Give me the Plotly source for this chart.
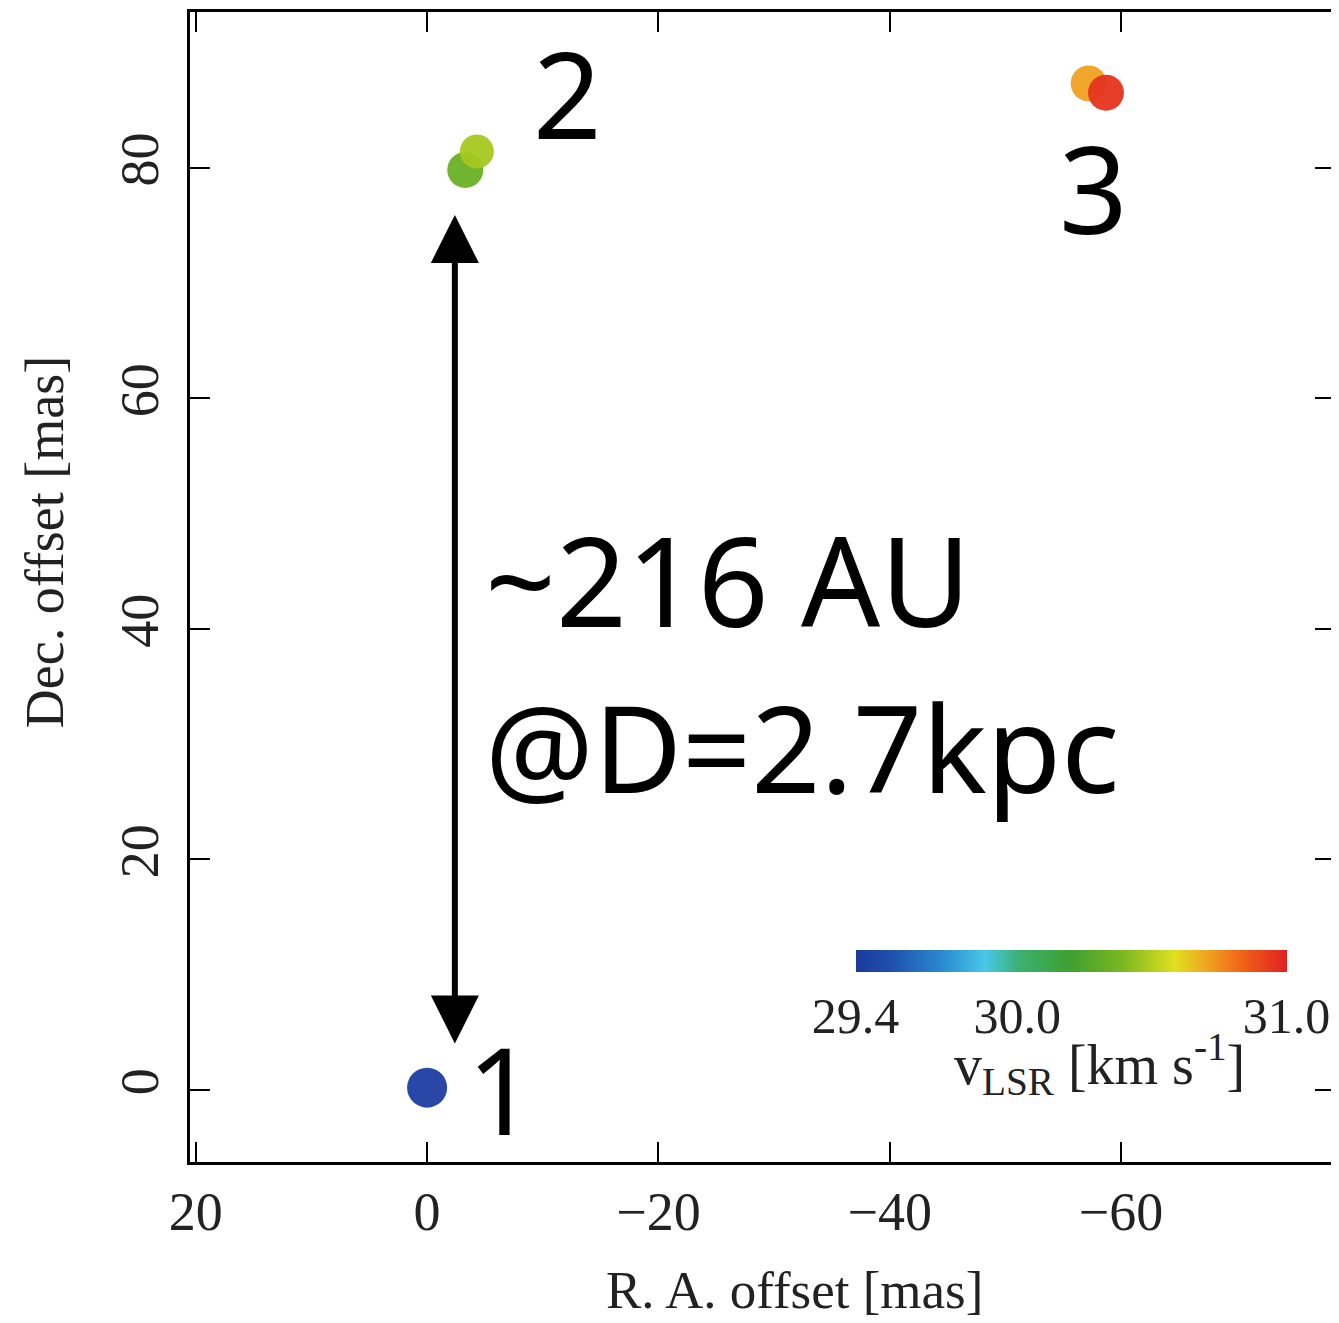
import plotly.graph_objects as go

# Maser spot data (R.A. offset, Dec. offset in mas; VLSR in km/s)
spot_ra = [0.0, -3.3, -4.3, -57.2, -58.7]
spot_dec = [0.2, 79.8, 81.4, 87.3, 86.5]
spot_vlsr = [29.42, 30.33, 30.47, 30.71, 30.95]
spot_size = [40, 36, 34, 36, 36]

# Spot labels
label_text = ["1", "2", "3"]
label_ra = [-6.45, -12.1, -57.6]
label_dec = [0.1, 86.5, 78.3]

x_ticks = [20, 0, -20, -40, -60]
y_ticks = [0, 20, 40, 60, 80]
cbar_ticks = [29.4, 30.0, 31.0]
cbar_min, cbar_max = 29.4, 31.0

# Separation arrow
arrow_ra = -2.4
arrow_dec_top = 75.9
arrow_dec_bottom = 3.9

jet = [[0.0, '#1b3a9e'], [0.08, '#1f4fae'], [0.2, '#2a8ad0'], [0.3, '#48c8e8'],
       [0.38, '#3cb070'], [0.5, '#3fa030'], [0.62, '#7cb820'], [0.74, '#e0e020'],
       [0.82, '#f0a020'], [0.9, '#f06018'], [1.0, '#e02020']]

serif = "Liberation Serif, Times New Roman, serif"
sans = "Noto Sans, Open Sans, sans-serif"

fig = go.Figure()
fig.add_trace(go.Scatter(
    x=spot_ra, y=spot_dec, mode="markers",
    marker=dict(
        size=spot_size, color=spot_vlsr, colorscale=jet,
        cmin=cbar_min, cmax=cbar_max, line=dict(width=0), opacity=0.95,
        colorbar=dict(
            orientation="h", x=0.7695, xanchor="center", y=0.1843, yanchor="top",
            len=0.3764, lenmode="fraction", thickness=22, xpad=0, ypad=0,
            outlinewidth=0, tickvals=cbar_ticks, ticktext=["29.4", "30.0", "31.0"],
            ticks="", ticklen=0, tickfont=dict(family=serif, size=50, color="#222"),
        ),
    ),
    showlegend=False, hoverinfo="skip",
))

for t, xx, yy in zip(label_text, label_ra, label_dec):
    fig.add_annotation(x=xx, y=yy, text=t, showarrow=False,
                       font=dict(family=sans, size=120, color="black"))

fig.add_annotation(x=-4.83, y=44.4, text="~216 AU", showarrow=False, xanchor="left",
                   font=dict(family=sans, size=124, color="black"))
fig.add_annotation(x=-4.83, y=29.8, text="@D=2.7kpc", showarrow=False, xanchor="left",
                   font=dict(family=sans, size=121, color="black"))

fig.add_annotation(x=arrow_ra, y=arrow_dec_top, ax=arrow_ra, ay=arrow_dec_bottom,
                   axref="x", ayref="y", xref="x", yref="y", text="",
                   showarrow=True, arrowhead=2, startarrowhead=2,
                   arrowside="end+start", arrowwidth=6, arrowsize=1.6,
                   startarrowsize=1.6, arrowcolor="black")

# Colour bar title
fig.add_annotation(xref="paper", yref="paper", x=0.7939, y=0.0852,
                   text="v<sub>LSR</sub> [km s<sup>-1</sup>]", showarrow=False,
                   xanchor="center", yanchor="middle",
                   font=dict(family=serif, size=56, color="#222"))

# Axis titles
fig.add_annotation(xref="paper", yref="paper", x=0.528, y=-0.1113, text="R. A. offset [mas]",
                   showarrow=False, xanchor="center", yanchor="middle",
                   font=dict(family=serif, size=53, color="#222"))
fig.add_annotation(xref="paper", yref="paper", x=-0.1266, y=0.539, text="Dec. offset [mas]",
                   showarrow=False, xanchor="center", yanchor="middle", textangle=-90,
                   font=dict(family=serif, size=54, color="#222"))

axis_common = dict(
    showgrid=False, zeroline=False, showline=True, linecolor="black", linewidth=2.5,
    mirror="ticks", ticks="inside", ticklen=20, tickwidth=2, tickcolor="black",
    tickfont=dict(family=serif, size=54, color="#222"),
)

fig.update_xaxes(range=[20.5, -78.5], tickvals=x_ticks, **axis_common)
fig.update_yaxes(range=[-6.25, 93.5], tickvals=y_ticks, tickangle=-90,
                 ticklabelstandoff=8, **axis_common)

# The page body adds an 8 px offset, so the figure is 8 px smaller and margins compensate
fig.update_layout(
    width=1331, height=1315,
    margin=dict(l=182, r=4, t=4, b=161, autoexpand=False),
    plot_bgcolor="white", paper_bgcolor="white",
)

fig.write_html("out.html")
